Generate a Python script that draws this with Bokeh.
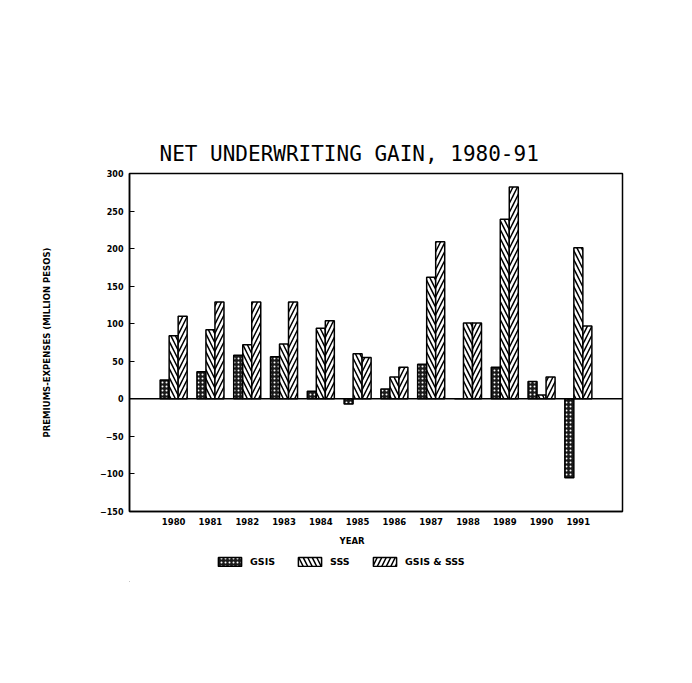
from bokeh.plotting import figure
from bokeh.layouts import column
from bokeh.models import (ColumnDataSource, Range1d, FixedTicker, Span, Title,
                          Legend, LegendItem)
from bokeh.transform import dodge
from bokeh.embed import file_html
from bokeh.resources import INLINE

# ---- data ----
years = [1980, 1981, 1982, 1983, 1984, 1985, 1986, 1987, 1988, 1989, 1990, 1991]
gsis = [25, 36, 58, 56, 10, -7, 13, 46, 0, 42, 23, -105]
sss = [84, 92, 72, 73, 94, 60, 29, 162, 101, 239, 5, 201]
gsis_sss = [110, 129, 129, 129, 104, 55, 42, 209, 101, 282, 29, 97]
series_names = ["GSIS", "SSS", "GSIS & SSS"]
y_ticks = [-150, -100, -50, 0, 50, 100, 150, 200, 250, 300]

title_text = "NET UNDERWRITING GAIN, 1980-91"
y_label = "PREMIUMS-EXPENSES (MILLION PESOS)"
x_label = "YEAR"

FONT = "DejaVu Sans"

styles = [
    dict(fill_color="#1a1a1a", hatch_pattern="dot", hatch_color="white",
         hatch_scale=4, hatch_weight=1.2),
    dict(fill_color="white", hatch_pattern="left_diagonal_line",
         hatch_color="black", hatch_scale=9, hatch_weight=1.5),
    dict(fill_color="white", hatch_pattern="right_diagonal_line",
         hatch_color="black", hatch_scale=9, hatch_weight=1.5),
]

src = ColumnDataSource(dict(year=years, gsis=gsis, sss=sss, tot=gsis_sss))

p = figure(width=684, height=552, output_backend="svg", toolbar_location=None,
           x_range=Range1d(1978.8, 1992.2), y_range=Range1d(-150, 300),
           min_border_left=129, min_border_right=62,
           min_border_top=173, min_border_bottom=41)
p.background_fill_color = "white"
p.border_fill_color = "white"
p.outline_line_color = "black"
p.outline_line_width = 1.5
p.grid.visible = False

bw = 0.245
common = dict(width=bw, line_color="black", line_width=1.5, source=src)
r1 = p.vbar(x=dodge("year", -bw, range=p.x_range), top="gsis", bottom=0,
            **styles[0], **common)
r2 = p.vbar(x=dodge("year", 0, range=p.x_range), top="sss", bottom=0,
            **styles[1], **common)
r3 = p.vbar(x=dodge("year", bw, range=p.x_range), top="tot", bottom=0,
            **styles[2], **common)

p.add_layout(Span(location=0, dimension="width", line_color="black",
                  line_width=1.5))

# axes
p.yaxis.ticker = FixedTicker(ticks=y_ticks)
p.yaxis.major_tick_in = 5
p.yaxis.major_tick_out = 0
p.yaxis.minor_tick_line_color = None
p.yaxis.axis_line_width = 1.5
p.yaxis.major_label_text_font = FONT
p.yaxis.major_label_text_font_style = "bold"
p.yaxis.major_label_text_font_size = "8px"
p.yaxis.major_label_text_color = "black"
p.yaxis.major_label_standoff = 6
p.yaxis.axis_label = y_label
p.yaxis.axis_label_text_font = FONT
p.yaxis.axis_label_text_font_style = "bold"
p.yaxis.axis_label_text_font_size = "8.5px"
p.yaxis.axis_label_text_color = "black"
p.yaxis.axis_label_standoff = 45

p.xaxis.ticker = FixedTicker(ticks=years)
p.xaxis.major_tick_in = 0
p.xaxis.major_tick_out = 0
p.xaxis.minor_tick_line_color = None
p.xaxis.axis_line_width = 1.5
p.xaxis.major_label_text_font = FONT
p.xaxis.major_label_text_font_style = "bold"
p.xaxis.major_label_text_font_size = "8.5px"
p.xaxis.major_label_text_color = "black"
p.xaxis.major_label_standoff = 6

# title (sits a little left of the frame centre)
p.title.text = title_text
p.title.align = "left"
p.title.offset = 30
p.title.standoff = 16
p.title.text_font = "DejaVu Sans Mono"
p.title.text_font_style = "normal"
p.title.text_font_size = "21px"
p.title.text_color = "black"

# x label as a title below the axis
xl = Title(text=x_label, align="left", offset=210, standoff=13,
           text_font=FONT, text_font_style="bold", text_font_size="8.5px",
           text_color="black")
p.add_layout(xl, "below")

# ---- legend strip below the chart ----
p2 = figure(width=684, height=30, output_backend="svg", toolbar_location=None,
            x_range=Range1d(0, 684), y_range=Range1d(0, 30),
            x_axis_type=None, y_axis_type=None, min_border=0)
p2.outline_line_color = None
p2.grid.visible = False
p2.background_fill_color = "white"
p2.border_fill_color = "white"
dummy = ColumnDataSource(dict(x=[-1000], top=[-1000]))
lr = [p2.vbar(x="x", top="top", bottom=-1001, width=1, line_color="black",
              line_width=1.5, source=dummy, **st) for st in styles]

legend = Legend(items=[LegendItem(label=n, renderers=[r])
                       for n, r in zip(series_names, lr)],
                orientation="horizontal", location=(86, 15),
                glyph_width=29, glyph_height=11, label_standoff=6, spacing=20,
                padding=0, margin=0, border_line_alpha=0,
                background_fill_alpha=0,
                label_text_font=FONT, label_text_font_style="bold",
                label_text_font_size="9.5px", label_height=11,
                label_text_color="black")
p2.add_layout(legend, "center")

layout = column(p, p2, spacing=0)
open("out.html", "w").write(file_html(layout, INLINE))
